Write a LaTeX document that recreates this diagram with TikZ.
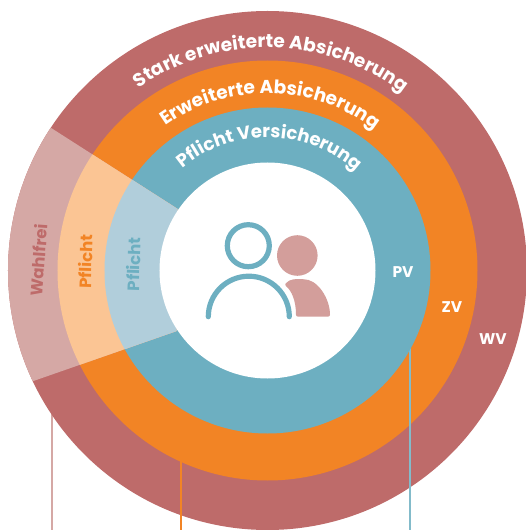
\documentclass[tikz,border=0pt]{standalone}
\usepackage{fontspec}
\setmainfont{Poppins}
\usetikzlibrary{decorations.text}

\definecolor{wvrose}{HTML}{BE6B6A}
\definecolor{zvorange}{HTML}{F28425}
\definecolor{pvblue}{HTML}{6DAFC1}
\definecolor{wvpale}{HTML}{D5A8A5}
\definecolor{zvpale}{HTML}{FBC594}
\definecolor{pvpale}{HTML}{B1CEDB}
\definecolor{iconrose}{HTML}{D39E9B}

\tikzset{
	ringlabel/.style={font=\fontsize{15.5}{15.5}\selectfont\bfseries,text=white,inner sep=0pt},
	sidelabel/.style={font=\fontsize{16.5}{16.5}\selectfont\bfseries,inner sep=0pt},
	leader/.style={line width=2pt},
	arctext/.style 2 args={decorate,decoration={text along path,text align=center,
		text={|\fontsize{#1}{#1}\selectfont\bfseries\color{white}|#2}}}
}

\begin{document}
\begin{tikzpicture}[x=1pt,y=1pt]
	\useasboundingbox (-267.5,-259.5) rectangle (258.5,270.5);

	% Leader lines under the rings
	\draw[leader,wvpale] (-215.5,-100) -- (-215.5,-259.5);
	\fill[wvrose] (0,0) circle (259.5);
	\draw[leader,zvorange] (-86.5,-100) -- (-86.5,-259.5);
	\fill[zvorange] (0,0) circle (210);
	\draw[leader,pvblue!85!white] (142.5,-50) -- (142.5,-259.5);
	\fill[pvblue] (0,0) circle (163);

	% Pale wedge on the left
	\begin{scope}
		\clip (-89.8,61.5) -- (-253,166) -- (-300,166) -- (-300,-133) -- (-277,-125.5) -- (-90.8,-60.5) -- cycle;
		\fill[wvpale] (0,0) circle (259.5);
		\fill[zvpale] (0,0) circle (210);
		\fill[pvpale] (0,0) circle (163);
	\end{scope}
	\fill[white] (0,0) circle (108);

	% Curved titles
	\path[arctext={18.7}{Stark erweiterte Absicherung}] (126.5:223) arc (126.5:51.5:223);
	\path[arctext={18.6}{Erweiterte Absicherung}] (126.5:177) arc (126.5:51.5:177);
	\path[arctext={18.1}{Pflicht Versicherung}] (131.5:133) arc (131.5:46.5:133);

	% Labels
	\node[sidelabel,text=wvrose,rotate=86] (wahlfrei) at (-229,10.5) {Wahlfrei};
	\node[sidelabel,text=zvorange,rotate=88] (pflichtzv) at (-182,9) {Pflicht};
	\node[sidelabel,text=pvblue,rotate=88] (pflichtpv) at (-134,6.5) {Pflicht};
	\node[ringlabel] (pv) at (135.5,-1.5) {PV};
	\node[ringlabel] (zv) at (184.5,-36.5) {ZV};
	\node[ringlabel] (wv) at (225.5,-68.5) {WV};

	% Persons
	\fill[iconrose] (29.8,15) circle (20.3);
	\fill[iconrose,rounded corners=2pt] (28.5,-46.2) .. controls (28.5,-30) and (24,-20) .. (17,-14.5)
		.. controls (22,-8) and (30,-8.5) .. (34.2,-8.8)
		.. controls (50,-8.5) and (62.5,-28) .. (62.5,-46.2) -- cycle;
	\draw[pvblue,line width=5.2pt] (-19.2,24.8) circle (21);
	\draw[pvblue,line width=5.2pt,line cap=round] (-59.2,-46.2) arc (180:0:40.5);
\end{tikzpicture}
\end{document}
